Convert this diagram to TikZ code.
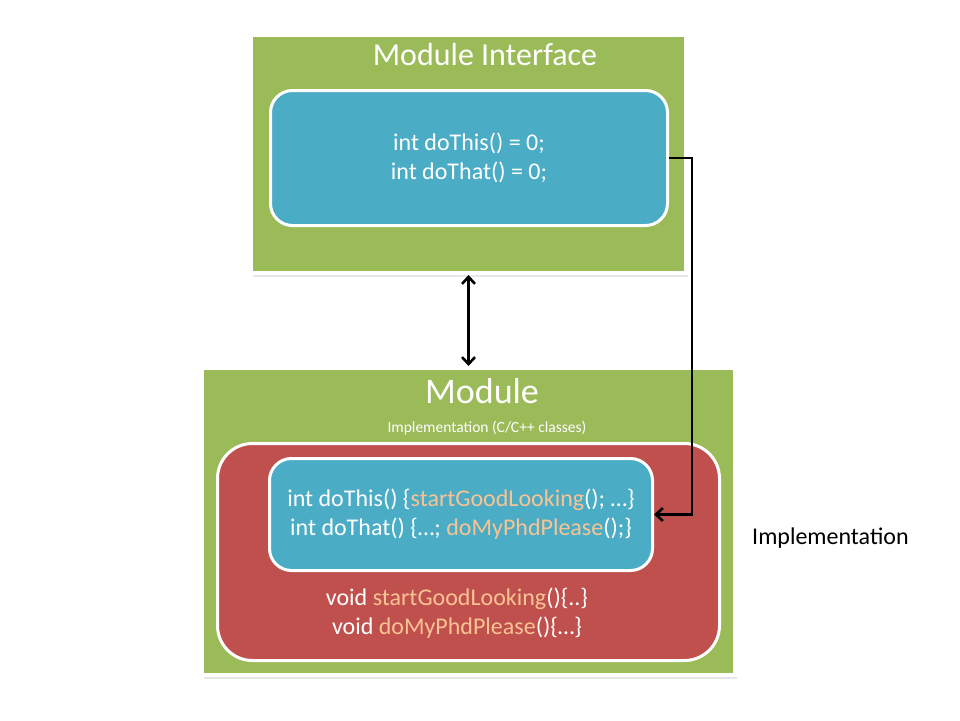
\documentclass[tikz,border=0pt]{standalone}
\usepackage{fontspec}
\setmainfont{Carlito}
\usetikzlibrary{arrows.meta,shadows}
\definecolor{olive}{HTML}{9BBB59}
\definecolor{aqua}{HTML}{4BACC6}
\definecolor{brick}{HTML}{C0504D}
\definecolor{peach}{HTML}{FAC393}
\newcommand{\fn}[1]{\textcolor{peach}{#1}}

\begin{document}
\begin{tikzpicture}[x=1pt, y=-1pt, >={Straight Barb[length=7pt,width=13pt]},
    modbox/.style={draw=white, line width=4pt, fill=olive, inner sep=0pt,
        drop shadow={opacity=0.2, shadow xshift=2pt, shadow yshift=-4pt}},
    codebox/.style={draw=white, line width=3pt, fill=aqua, rounded corners=22pt,
        inner sep=0pt, text=white, align=center,
        font=\fontsize{24}{29}\selectfont},
    title/.style={text=white, inner sep=0pt, anchor=base}]
    \useasboundingbox (0,0) rectangle (960,720);

    % Interface module
    \node[modbox, minimum width=435pt, minimum height=238pt] (iface) at (468.5,154) {};
    \node[codebox, minimum width=397pt, minimum height=135pt] (ifaceCode) at (469,158)
        {int doThis() = 0;\\int doThat() = 0;};
    \node[title, font=\fontsize{32}{38}\selectfont] (ifaceTitle) at (485,65) {Module Interface};

    % Implementation module
    \node[modbox, minimum width=533pt, minimum height=307pt] (module) at (468.5,521.5) {};
    \node[title, font=\fontsize{36}{42}\selectfont] (moduleTitle) at (482,403) {Module};
    \node[title, font=\fontsize{15.5}{18}\selectfont] (moduleSub) at (487,432)
        {Implementation (C/C++ classes)};
    \node[draw=white, line width=3pt, fill=brick, rounded corners=35pt,
        minimum width=502pt, minimum height=217pt] (classes) at (468.5,552) {};
    \node[codebox, minimum width=383pt, minimum height=112pt] (implCode) at (461,514.5)
        {int doThis() \{\fn{startGoodLooking}(); \dots\}\\
         int doThat() \{\dots; \fn{doMyPhdPlease}();\}};
    \node[text=white, align=center, inner sep=0pt,
        font=\fontsize{24}{29}\selectfont] (helpers) at (457,613)
        {void \fn{startGoodLooking}()\{..\}\\void \fn{doMyPhdPlease}()\{\dots\}};

    % Side label
    \node[anchor=base west, inner sep=0pt, font=\fontsize{24}{29}\selectfont]
        (implLabel) at (752,544) {Implementation};

    % Connectors
    \draw[<->, line width=2.6pt] (iface.south) -- (module.north);
    \draw[->, line width=2.6pt] (ifaceCode.east) -- ++(23,0) |- (implCode.east);
\end{tikzpicture}
\end{document}
